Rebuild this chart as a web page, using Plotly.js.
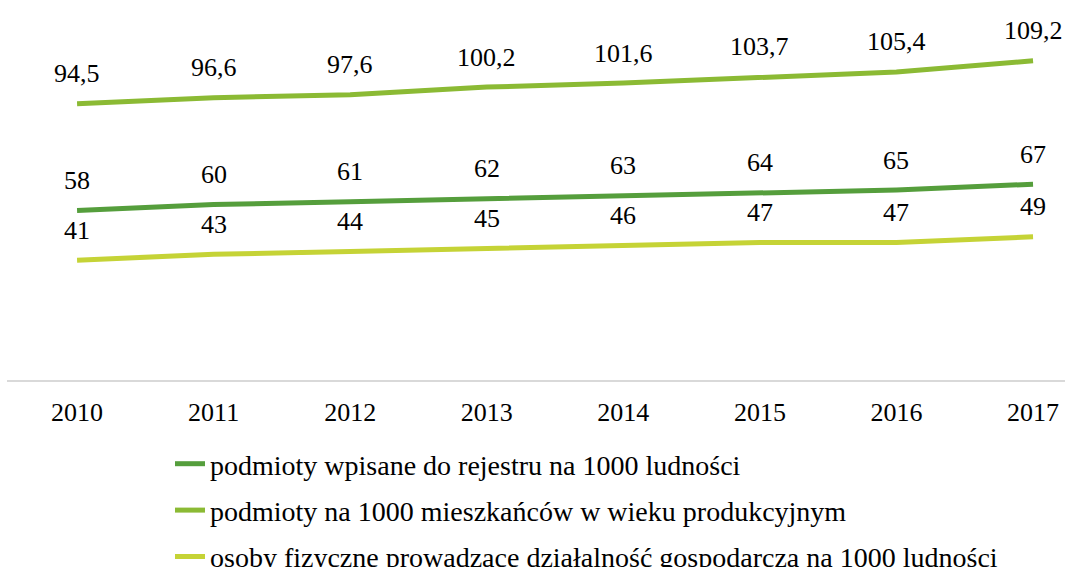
<!DOCTYPE html>
<html>
<head>
<meta charset="utf-8">
<script src="https://cdn.plot.ly/plotly-3.0.1.min.js"></script>
<style>html,body{margin:0;padding:0;background:#fff;}</style>
</head>
<body>
<div id="chart" style="width:1065px;height:567px"></div>
<script>
const years = [2010, 2011, 2012, 2013, 2014, 2015, 2016, 2017];
const seriesNames = [
  "podmioty wpisane do rejestru na 1000 ludności",
  "podmioty na 1000 mieszkańców w wieku produkcyjnym",
  "osoby fizyczne prowadzące działalność gospodarczą na 1000 ludności"
];
const rejestr = [58, 60, 61, 62, 63, 64, 65, 67];
const produkcyjny = [94.5, 96.6, 97.6, 100.2, 101.6, 103.7, 105.4, 109.2];
const osoby = [41, 43, 44, 45, 46, 47, 47, 49];
const colors = ["#559E3C", "#8BBA34", "#C5D336"];

const FONT = "Liberation Serif";
const series = [rejestr, produkcyjny, osoby];
const fmt = v => String(v).replace('.', ',');

const traces = series.map((vals, i) => ({
  type: 'scatter',
  mode: 'lines',
  x: years,
  y: vals,
  name: seriesNames[i],
  legendgroup: 'g' + i,
  line: {color: colors[i], width: 5},
  hoverinfo: 'skip'
}));

const annotations = [];
series.forEach((vals, i) => {
  vals.forEach((v, j) => {
    annotations.push({
      x: years[j], y: v, xref: 'x', yref: 'y',
      text: fmt(v), showarrow: false, yshift: 30,
      font: {family: FONT, size: 26, color: '#000'}
    });
  });
});

const layout = {
  width: 1065, height: 567,
  margin: {l: 7, r: 0, t: 0, b: 187, autoexpand: false},
  paper_bgcolor: '#fff', plot_bgcolor: '#fff',
  font: {family: FONT, size: 26, color: '#000'},
  xaxis: {
    type: 'linear', range: [2009.487, 2017.234],
    tickvals: years, ticktext: years.map(String),
    showgrid: false, zeroline: false,
    showline: true, linecolor: '#d9d9d9', linewidth: 2,
    ticks: 'outside', ticklen: 8, tickcolor: 'rgba(0,0,0,0)',
    tickfont: {family: FONT, size: 26}, automargin: false
  },
  yaxis: {range: [0, 130], visible: false, showgrid: false, zeroline: false, automargin: false},
  showlegend: true,
  legend: {
    xref: 'container', yref: 'container',
    x: 170/1065, y: 1 - 439/567, xanchor: 'left', yanchor: 'top',
    orientation: 'v', traceorder: 'grouped', tracegroupgap: 7,
    font: {family: FONT, size: 28}, bgcolor: 'rgba(0,0,0,0)'
  },
  annotations: annotations
};

Plotly.newPlot('chart', traces, layout, {displayModeBar: false});
</script>
</body>
</html>
